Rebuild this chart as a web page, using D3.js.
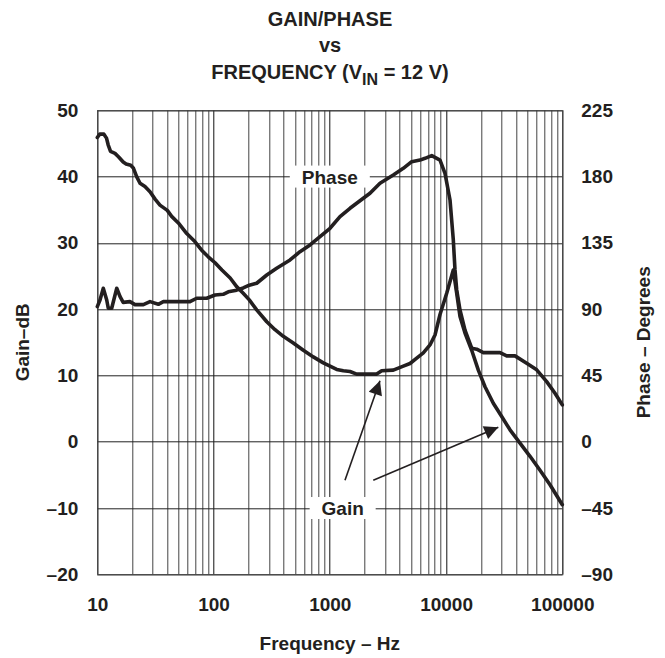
<!DOCTYPE html>
<html>
<head>
<meta charset="utf-8">
<script src="https://cdn.jsdelivr.net/npm/d3@7"></script>
<style>
  body { margin: 0; background: #fff; }
  text { font-family: "Liberation Sans", Arial, sans-serif; font-weight: bold; fill: #231f20; }
</style>
</head>
<body>
<div id="chart"></div>
<script>
// Gain curve (dB)
var gainFreq = [10, 10.5, 11.4, 12, 12.4, 13, 14.2, 15.2, 16.7, 17.7, 19.4, 20.4, 21.8, 23.3, 25.7, 28.4, 31.4, 34.6,
  40, 43.6, 49.8, 58.8, 69, 79, 90, 103, 118, 139, 158, 180, 203, 235, 287, 338, 398, 485, 592, 721, 879, 1004,
  1147, 1307, 1492, 1703, 2077, 2532, 2796, 3517, 4289, 4897, 5592, 6374, 7276, 8034, 8872, 10130, 11545,
  12350, 13183, 14555, 16618, 18950, 21630, 25500, 30110, 35490, 43270, 52760, 64310, 78400, 100000];
var gainDb = [45.9, 46.4, 46.4, 45.8, 44.8, 43.8, 43.5, 43.0, 42.2, 41.9, 41.7, 41.3, 40.0, 39.0, 38.5, 37.7, 36.6, 35.7,
  34.9, 34.0, 33.0, 31.4, 30.2, 28.9, 27.9, 27.0, 25.9, 24.7, 23.4, 22.4, 21.4, 19.9, 18.1, 16.9, 15.9, 14.9, 13.8, 12.8, 11.9, 11.4,
  10.9, 10.7, 10.6, 10.2, 10.2, 10.2, 10.7, 10.8, 11.4, 11.8, 12.6, 13.4, 14.6, 16.1, 19.2, 22.4, 25.9,
  22.4, 18.9, 16.4, 13.8, 10.8, 8.3, 5.8, 3.8, 1.8, -0.2, -2.2, -4.3, -6.5, -9.5];

// Phase curve (degrees)
var phaseFreq = [10, 10.55, 11.26, 12.05, 12.43, 13.3, 14.7, 15.7, 16.7, 19.1, 21.1, 24.9, 28.4, 33.5, 37, 45, 62.7,
  71.6, 87.3, 103, 121, 134, 158, 180, 203, 235, 287, 349, 455, 554, 676, 824, 1004, 1224, 1492, 1942, 2217, 2703,
  3517, 4289, 5064, 5970, 6590, 7529, 8872, 9795, 10815, 11545, 11940, 12350, 13183, 14555, 16618, 18350, 20920,
  29120, 33240, 39180, 49390, 60230, 73400, 86540, 100000];
var phaseDeg = [91.7, 96.2, 104.2, 96.2, 90.6, 90.6, 104.2, 98.5, 94.6, 95.1, 93.1, 93.1, 95.1, 93.3, 95.1, 95.1, 95.1,
  97.4, 97.4, 99.6, 100.1, 101.8, 102.9, 104.4, 106.3, 107.6, 113.2, 117.8, 123.4, 129.0, 133.6, 139.2, 144.9, 152.8, 158.5, 165.3, 168.7, 175.5,
  181.1, 185.6, 190.1, 191.2, 192.4, 194.2, 191.2, 182.2, 164.1, 137.0, 116.6, 103.0, 89.4, 75.8, 63.5, 62.8, 60.5,
  60.5, 58.3, 58.3, 53.3, 48.8, 40.8, 32.9, 25.0];

// ticks
var freqTicks = [10, 100, 1000, 10000, 100000];
var gainTicks = [-20, -10, 0, 10, 20, 30, 40, 50];
var phaseTicks = [-90, -45, 0, 45, 90, 135, 180, 225];

var svgWidth = 665;
var svgHeight = 658;
var margin = { top: 110.3, right: 102.7, bottom: 83.7, left: 97.3 };
var chartWidth = svgWidth - margin.left - margin.right;
var chartHeight = svgHeight - margin.top - margin.bottom;

var svg = d3.select("#chart")
  .append("svg")
  .attr("width", svgWidth)
  .attr("height", svgHeight);

var chartGroup = svg.append("g")
  .attr("transform", `translate(${margin.left}, ${margin.top})`);

var xLogScale = d3.scaleLog().domain([10, 100000]).range([0, chartWidth]);
var yGainScale = d3.scaleLinear().domain([-20, 50]).range([chartHeight, 0]);
var yPhaseScale = d3.scaleLinear().domain([-90, 225]).range([chartHeight, 0]);

// vertical grid: every 1..9 in each decade
var gridFreqs = [];
for (var dec = 10; dec < 100000; dec *= 10) {
  for (var m = 1; m < 10; m++) gridFreqs.push(dec * m);
}
gridFreqs.push(100000);

chartGroup.selectAll(".vgrid")
  .data(gridFreqs)
  .enter()
  .append("line")
  .attr("x1", d => Math.round(xLogScale(d)) + 0.5)
  .attr("x2", d => Math.round(xLogScale(d)) + 0.5)
  .attr("y1", 0)
  .attr("y2", chartHeight)
  .attr("stroke", d => freqTicks.indexOf(d) >= 0 ? "#111" : "#444")
  .attr("stroke-width", 1);

chartGroup.selectAll(".hgrid")
  .data(gainTicks)
  .enter()
  .append("line")
  .attr("x1", 0)
  .attr("x2", chartWidth)
  .attr("y1", d => Math.round(yGainScale(d)) + 0.5)
  .attr("y2", d => Math.round(yGainScale(d)) + 0.5)
  .attr("stroke", "#222")
  .attr("stroke-width", 1);

chartGroup.append("rect")
  .attr("x", 0.5)
  .attr("y", 0.5)
  .attr("width", chartWidth)
  .attr("height", chartHeight)
  .attr("fill", "none")
  .attr("stroke", "#444")
  .attr("stroke-width", 1);

// curves
var gainLine = d3.line()
  .x((d, i) => xLogScale(gainFreq[i]))
  .y(d => yGainScale(d));
var phaseLine = d3.line()
  .x((d, i) => xLogScale(phaseFreq[i]))
  .y(d => yPhaseScale(d));

chartGroup.append("path")
  .attr("d", phaseLine(phaseDeg))
  .attr("fill", "none")
  .attr("stroke", "#231f20")
  .attr("stroke-width", 3.6)
  .attr("stroke-linejoin", "round")
  .attr("stroke-linecap", "round");

chartGroup.append("path")
  .attr("d", gainLine(gainDb))
  .attr("fill", "none")
  .attr("stroke", "#231f20")
  .attr("stroke-width", 3.6)
  .attr("stroke-linejoin", "round")
  .attr("stroke-linecap", "round");

// curve labels with white boxes over grid
function boxLabel(txt, f, db, w) {
  var cx = xLogScale(f), cy = yGainScale(db);
  chartGroup.append("rect")
    .attr("x", cx - w / 2)
    .attr("y", cy - 11)
    .attr("width", w)
    .attr("height", 22)
    .attr("fill", "#fff");
  chartGroup.append("text")
    .attr("x", cx)
    .attr("y", cy + 7)
    .attr("text-anchor", "middle")
    .attr("font-size", "19px")
    .text(txt);
}
boxLabel("Phase", 1000, 40, 80);
boxLabel("Gain", 1290, -10, 66);

// arrows
svg.append("defs").append("marker")
  .attr("id", "head")
  .attr("viewBox", "0 0 10 10")
  .attr("refX", 10)
  .attr("refY", 5)
  .attr("markerUnits", "userSpaceOnUse")
  .attr("markerWidth", 22)
  .attr("markerHeight", 14)
  .attr("orient", "auto")
  .append("path")
  .attr("d", "M0,0 L10,5 L0,10 Z")
  .attr("fill", "#231f20");

var arrows = [
  { from: [1351, -5.8], to: [2700, 9.2] },
  { from: [2366, -5.8], to: [28150, 2.2] }
];
chartGroup.selectAll(".arrow")
  .data(arrows)
  .enter()
  .append("line")
  .attr("x1", d => xLogScale(d.from[0]))
  .attr("y1", d => yGainScale(d.from[1]))
  .attr("x2", d => xLogScale(d.to[0]))
  .attr("y2", d => yGainScale(d.to[1]))
  .attr("stroke", "#231f20")
  .attr("stroke-width", 1.6)
  .attr("marker-end", "url(#head)");

// axes
var fmt = d => d < 0 ? "\u2013" + Math.abs(d) : String(d);
var bottomAxis = d3.axisBottom(xLogScale).tickValues(freqTicks).tickFormat(d3.format("d")).tickSize(0).tickPadding(23);
var leftAxis = d3.axisLeft(yGainScale).tickValues(gainTicks).tickFormat(fmt).tickSize(0).tickPadding(19);
var rightAxis = d3.axisRight(yPhaseScale).tickValues(phaseTicks).tickFormat(fmt).tickSize(0).tickPadding(19);

[[bottomAxis, `translate(0, ${chartHeight})`], [leftAxis, null], [rightAxis, `translate(${chartWidth}, 0)`]]
  .forEach(function(a) {
    var g = chartGroup.append("g").call(a[0]);
    if (a[1]) g.attr("transform", a[1]);
    g.select(".domain").remove();
    g.selectAll("text")
      .style("font-family", "'Liberation Sans', Arial, sans-serif")
      .style("font-weight", "bold")
      .style("font-size", "19px")
      .style("fill", "#231f20");
  });

// axis titles
chartGroup.append("text")
  .attr("transform", "rotate(-90)")
  .attr("x", -(chartHeight / 2))
  .attr("y", -margin.left + 29)
  .attr("text-anchor", "middle")
  .attr("font-size", "19px")
  .text("Gain\u2013dB");

chartGroup.append("text")
  .attr("transform", "rotate(-90)")
  .attr("x", -(chartHeight / 2))
  .attr("y", chartWidth + 88)
  .attr("text-anchor", "middle")
  .attr("font-size", "19px")
  .text("Phase \u2013 Degrees");

chartGroup.append("text")
  .attr("x", chartWidth / 2)
  .attr("y", chartHeight + 76)
  .attr("text-anchor", "middle")
  .attr("font-size", "19px")
  .text("Frequency \u2013 Hz");

// title
var title = svg.append("text")
  .attr("text-anchor", "middle")
  .attr("font-size", "20px");
title.append("tspan").attr("x", 330).attr("y", 26).text("GAIN/PHASE");
title.append("tspan").attr("x", 330).attr("y", 52).text("vs");
title.append("tspan").attr("x", 330).attr("y", 79).text("FREQUENCY (V");
title.append("tspan").attr("dy", 6).attr("font-size", "16px").text("IN");
title.append("tspan").attr("dy", -6).text(" = 12 V)");
</script>
</body>
</html>
